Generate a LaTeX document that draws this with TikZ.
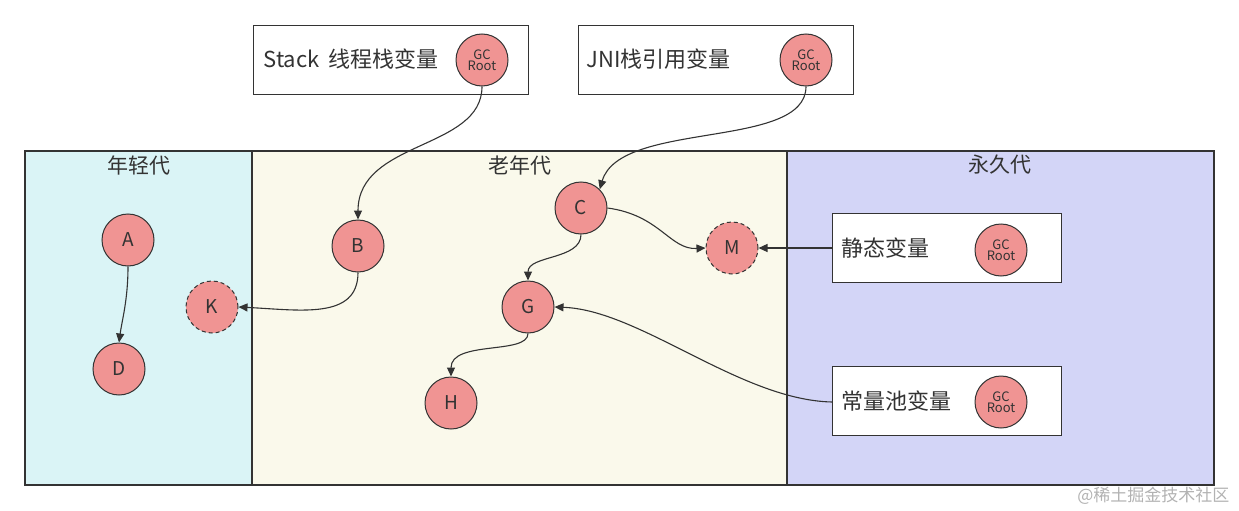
\documentclass[tikz,border=0pt]{standalone}
\usepackage{fontspec}
\setmainfont{Noto Sans CJK SC}
\usetikzlibrary{arrows.meta}
\definecolor{young}{HTML}{DAF4F6}
\definecolor{old}{HTML}{FAF9EB}
\definecolor{perm}{HTML}{D3D5F7}
\definecolor{nodefill}{HTML}{F09493}
\definecolor{edge}{HTML}{333333}
\begin{document}
\begin{tikzpicture}[x=1pt,y=-1pt,
  whitebox/.style={draw=edge,line width=1.2pt,fill=white,anchor=north west,inner sep=0pt},
  obj/.style={circle,draw=edge,line width=1pt,fill=nodefill,minimum size=52pt,inner sep=0pt,font=\fontsize{19}{22}\selectfont,text=edge},
  dobj/.style={obj,dashed,dash pattern=on 4pt off 3pt},
  gcroot/.style={circle,draw=edge,line width=1pt,fill=nodefill,minimum size=52pt,inner sep=0pt,font=\fontsize{13}{15}\selectfont,align=center,text=edge},
  lbl/.style={font=\fontsize{22}{26}\selectfont,text=edge,anchor=west},
  rlbl/.style={font=\fontsize{21}{24}\selectfont,text=edge},
  conn/.style={draw=edge,line width=1.1pt,-{Triangle[length=9pt,width=8pt]}}
]
\useasboundingbox (0,0) rectangle (1239,511);
% regions
\fill[young] (25,151) rectangle (252,485);
\fill[old] (252,151) rectangle (787,485);
\fill[perm] (787,151) rectangle (1214,485);
\draw[edge,line width=1.2pt] (25,151) rectangle (252,485);
\draw[edge,line width=1.2pt] (252,151) rectangle (787,485);
\draw[edge,line width=1.2pt] (787,151) rectangle (1214,485);
\node[rlbl] (ty) at (139,165) {年轻代};
\node[rlbl] (to) at (520,165) {老年代};
\node[rlbl] (tp) at (1000,165) {永久代};
% top boxes
\node[whitebox,minimum width=275pt,minimum height=69pt] (stackbox) at (253,25) {};
\node[lbl] (stacktxt) at (260,59) {Stack\hspace{4pt} 线程栈变量};
\node[gcroot] (r1) at (482,60) {GC\\[-4pt]Root};
\node[whitebox,minimum width=275pt,minimum height=69pt] (jnibox) at (578,25) {};
\node[lbl] (jnitxt) at (583,59) {JNI栈引用变量};
\node[gcroot] (r2) at (806,60) {GC\\[-4pt]Root};
% perm boxes
\node[whitebox,minimum width=229pt,minimum height=69pt] (staticbox) at (832,213) {};
\node[lbl] (statictxt) at (838,248) {静态变量};
\node[gcroot] (r3) at (1001,250) {GC\\[-4pt]Root};
\node[whitebox,minimum width=229pt,minimum height=69pt] (constbox) at (832,366) {};
\node[lbl] (consttxt) at (838,401) {常量池变量};
\node[gcroot] (r4) at (1001,402) {GC\\[-4pt]Root};
% objects
\node[obj] (A) at (128,240) {A};
\node[obj] (D) at (119,369) {D};
\node[dobj] (K) at (212,307) {K};
\node[obj] (B) at (358,246) {B};
\node[obj] (C) at (581,208) {C};
\node[dobj] (M) at (732,248) {M};
\node[obj] (G) at (528,307) {G};
\node[obj] (H) at (451,403) {H};
% connectors
\draw[conn] (r1.south) .. controls (482,150) and (358,140) .. (B.north);
\draw[conn] (r2.south) .. controls (806,150) and (620,120) .. (C.north east);
\draw[conn] (A.south) .. controls (128,300) and (122,320) .. (D.north);
\draw[conn] (B.south) .. controls (358,320) and (300,310) .. (K.east);
\draw[conn] (C.east) .. controls (660,215) and (670,250) .. (M.west);
\draw[conn] (C.south) .. controls (581,260) and (528,255) .. (G.north);
\draw[conn] (G.south) .. controls (528,355) and (451,340) .. (H.north);
\draw[conn] (staticbox.west |- M) -- (M.east);
\draw[conn] (constbox.west |- r4) .. controls (740,400) and (640,310) .. (G.east);
% watermark
\node[font=\fontsize{17}{20}\selectfont,text=black!30,anchor=east] (wm) at (1233,496) {@稀土掘金技术社区};
\end{tikzpicture}
\end{document}
